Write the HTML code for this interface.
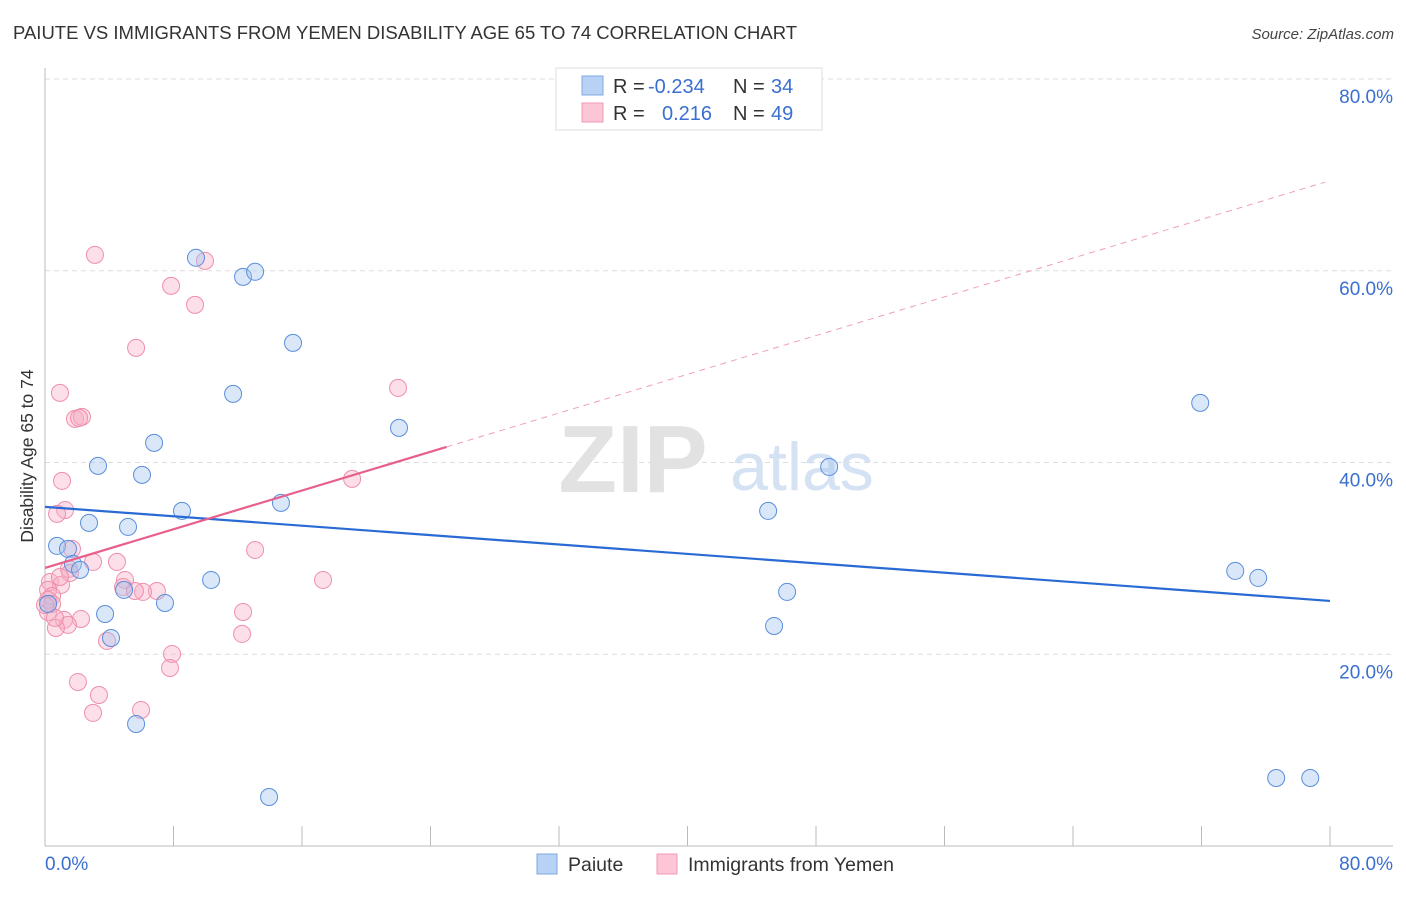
<!DOCTYPE html>
<html><head><meta charset="utf-8"><style>
body{margin:0;background:#fff;font-family:"Liberation Sans",sans-serif;}
svg text{font-family:"Liberation Sans",sans-serif;}
</style></head><body>
<svg width="1406" height="892" viewBox="0 0 1406 892" xmlns="http://www.w3.org/2000/svg">
<text x="13" y="39" font-size="18.5" fill="#333">PAIUTE VS IMMIGRANTS FROM YEMEN DISABILITY AGE 65 TO 74 CORRELATION CHART</text>
<text x="1394" y="39" font-size="15" fill="#444" text-anchor="end" font-style="italic">Source: ZipAtlas.com</text>
<g id="grid"></g>
<g>
<text x="633" y="492" font-size="96" fill="#e2e2e2" text-anchor="middle" font-family="Liberation Serif" font-weight="bold">ZIP</text>
<text x="802" y="490" font-size="68" fill="#d4e2f4" text-anchor="middle">atlas</text>
</g>
<g id="points"></g>
<g id="trends"></g>
<text transform="translate(33,456) rotate(-90)" font-size="17.5" fill="#333" text-anchor="middle">Disability Age 65 to 74</text>
<g>
<rect x="556" y="68" width="266" height="62" fill="#fff" stroke="#ddd"/>
<rect x="582" y="76" width="21" height="19" fill="#b8d2f5" stroke="#7fa8e0"/>
<rect x="582" y="103" width="21" height="19" fill="#fcc6d6" stroke="#f09ab4"/>
<text x="613" y="93" font-size="20" fill="#333">R =</text>
<text x="648" y="93" font-size="20" fill="#3a6fd0">-0.234</text>
<text x="733" y="93" font-size="20" fill="#333">N =</text>
<text x="771" y="93" font-size="20" fill="#3a6fd0">34</text>
<text x="613" y="120" font-size="20" fill="#333">R =</text>
<text x="662" y="120" font-size="20" fill="#3a6fd0">0.216</text>
<text x="733" y="120" font-size="20" fill="#333">N =</text>
<text x="771" y="120" font-size="20" fill="#3a6fd0">49</text>
</g>
<g>
<rect x="537" y="854" width="20" height="20" fill="#b8d2f5" stroke="#7fa8e0"/>
<text x="568" y="871" font-size="19.5" fill="#333">Paiute</text>
<rect x="657" y="854" width="20" height="20" fill="#fcc6d6" stroke="#f09ab4"/>
<text x="688" y="871" font-size="19.5" fill="#333">Immigrants from Yemen</text>
</g>
</svg>
<script>
const yTicks=[20,40,60,80];
const yTickLabels=["20.0%","40.0%","60.0%","80.0%"];
const xTicks=[0,8,16,24,32,40,48,56,64,72,80];
const xTickLabels=["0.0%","80.0%"];
const paiuteX=[9.40,12.33,13.08,15.44,11.71,22.04,6.79,3.30,6.04,8.53,14.69,2.74,5.17,0.75,1.43,1.74,2.18,10.34,4.92,7.47,3.74,4.11,5.67,13.95,71.92,48.82,45.02,46.20,45.39,74.10,75.53,76.65,78.77,0.19];
const paiuteY=[61.35,59.36,59.89,52.48,47.16,43.61,42.05,39.65,38.71,34.95,35.79,33.70,33.28,31.30,30.99,29.42,28.80,27.75,26.71,25.35,24.20,21.70,12.73,5.11,46.22,39.54,34.95,26.50,22.95,28.69,27.96,7.09,7.09,25.25];
const yemenX=[3.11,9.96,7.85,9.34,5.67,0.93,21.98,1.87,2.30,19.12,1.06,1.25,0.75,1.68,13.08,4.48,2.99,1.49,4.98,17.31,0.31,1.00,6.97,6.10,4.86,0.19,0.44,12.33,0.19,2.24,1.18,1.43,0.68,12.27,3.86,7.91,7.78,2.05,3.36,5.98,2.99,0.19,0.44,0,0.62,1.56,2.12,5.60,0.93];
const yemenY=[61.66,61.03,58.42,56.44,51.96,47.26,47.78,44.55,44.76,38.29,38.08,35.05,34.64,30.99,30.88,29.63,29.63,28.90,27.75,27.75,27.54,27.23,26.60,26.50,27.02,26.71,26.08,24.41,24.41,23.68,23.58,23.06,22.74,22.12,21.39,20.03,18.57,17.11,15.75,14.19,13.88,25.67,25.25,25.14,23.79,28.48,44.65,26.60,28.06];
const paiuteTrend=[35.37,-0.1226];
const yemenTrend=[29.0,0.505];
const yemenSolidEnd=25;
const yemenDashEnd=79.7;

const NS="http://www.w3.org/2000/svg";
const X0=45,X1=1330,Y0=846,Y80=79;
const xs=v=>X0+(X1-X0)*v/80;
const ys=v=>Y0-(Y0-Y80)*v/80;
function mk(tag,attrs,parent){const e=document.createElementNS(NS,tag);for(const k in attrs)e.setAttribute(k,attrs[k]);parent.appendChild(e);return e;}
const grid=document.getElementById('grid');
yTicks.forEach((t,i)=>{
  const l=mk('line',{x1:X0,x2:1393,y1:ys(t),y2:ys(t),stroke:'#ddd','stroke-dasharray':'5,4'},grid);
  
  
  const tx=mk('text',{x:1393,y:ys(t)+24,'font-size':19,fill:'#3a6fd0','text-anchor':'end'},grid);
  tx.textContent=yTickLabels[i];
  
  
});
const ax=mk('line',{x1:X0,x2:1393,y1:Y0,y2:Y0,stroke:'#bbb'},grid);


const ay=mk('line',{x1:X0,x2:X0,y1:68,y2:Y0,stroke:'#bbb'},grid);


xTicks.forEach(t=>{
  const l=mk('line',{x1:xs(t),x2:xs(t),y1:826,y2:Y0,stroke:'#bbb'},grid);
  
  
});
const xl0=mk('text',{x:X0,y:870,'font-size':19,fill:'#3a6fd0'},grid);
xl0.textContent=xTickLabels[0];


const xl1=mk('text',{x:1393,y:870,'font-size':19,fill:'#3a6fd0','text-anchor':'end'},grid);
xl1.textContent=xTickLabels[1];



const pts=document.getElementById('points');
yemenX.forEach((x,i)=>{
  const c=mk('circle',{cx:xs(x),cy:ys(yemenY[i]),r:8.5,fill:'rgba(248,175,198,0.4)',stroke:'#ef8fac','stroke-width':1},pts);
  
  
});
paiuteX.forEach((x,i)=>{
  const c=mk('circle',{cx:xs(x),cy:ys(paiuteY[i]),r:8.5,fill:'rgba(160,195,240,0.4)',stroke:'#5a8edb','stroke-width':1},pts);
  
  
});
const tr=document.getElementById('trends');
const bl=mk('line',{x1:xs(0),y1:ys(paiuteTrend[0]),x2:xs(80),y2:ys(paiuteTrend[0]+paiuteTrend[1]*80),stroke:'#2a6ad4','stroke-width':2.2},tr);


const pl=mk('line',{x1:xs(0),y1:ys(yemenTrend[0]),x2:xs(yemenSolidEnd),y2:ys(yemenTrend[0]+yemenTrend[1]*yemenSolidEnd),stroke:'#e8608a','stroke-width':2.2},tr);


const pd=mk('line',{x1:xs(yemenSolidEnd),y1:ys(yemenTrend[0]+yemenTrend[1]*yemenSolidEnd),x2:xs(yemenDashEnd),y2:ys(yemenTrend[0]+yemenTrend[1]*yemenDashEnd),stroke:'#eea0b8','stroke-width':1,'stroke-dasharray':'6,5'},tr);


</script>
</body></html>
